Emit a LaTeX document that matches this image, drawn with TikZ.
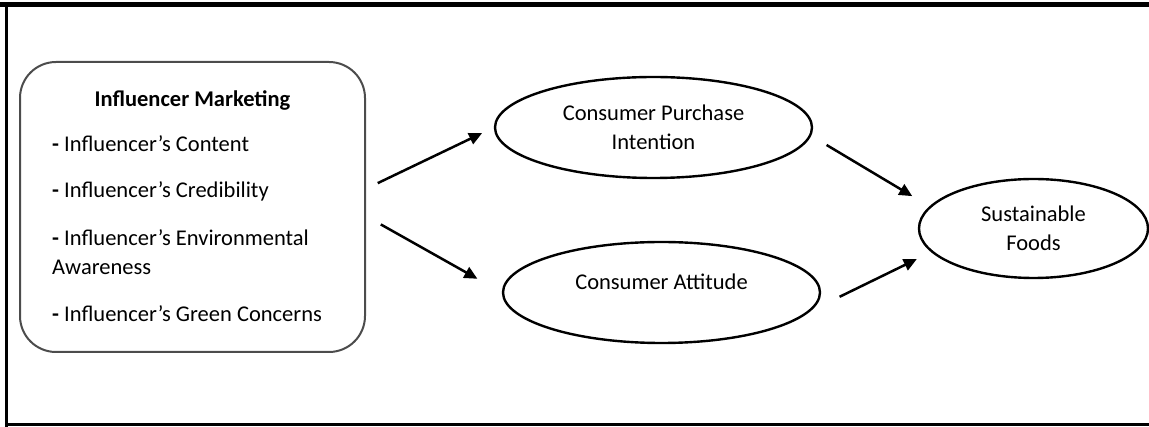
\documentclass[tikz,border=0pt]{standalone}
\usepackage{fontspec}
\setmainfont{Carlito}
\usetikzlibrary{arrows.meta,shapes.geometric}

\begin{document}
\begin{tikzpicture}[x=1pt,y=-1pt,
    every node/.style={font=\fontsize{22.5}{29.5}\selectfont, inner sep=0pt},
    factor/.style={draw, ellipse, line width=2.4pt, minimum width=317pt, minimum height=101pt, align=center},
    item/.style={anchor=base west, align=left},
    link/.style={line width=2.5pt, -{Triangle[length=13pt,width=12pt]}}]
             \useasboundingbox (0,0) rectangle (1149,427);

             % frame
             \fill (0,2) rectangle (1149,7);
             \fill (5,2) rectangle (8,427);
             \fill (5,423) rectangle (1149,426);

             % influencer side
             \node[draw=black!70, line width=2pt, rounded corners=36pt, minimum width=345pt, minimum height=290pt] (im) at (192.5,207) {};
             \node[font=\fontsize{22.5}{29.5}\selectfont\bfseries, anchor=base] (imtitle) at (192.5,107) {Influencer Marketing};
             \node[item] (content) at (52,152) {\textbf{-} Influencer's Content};
             \node[item] (cred) at (52,198) {\textbf{-} Influencer's Credibility};
             % two lines: base sits on the last one
             \node[item] (env) at (52,275) {\textbf{-} Influencer's Environmental\\Awareness};
             \node[item] (green) at (52,322) {\textbf{-} Influencer's Green Concerns};

             % consumer side
             \node[factor] (cpi) at (653.5,127.5) {Consumer Purchase\\Intention};
             \node[factor, text height=15pt, text depth=20pt] (ca) at (661.5,292.5) {Consumer Attitude};
             \node[factor, minimum width=229pt, minimum height=99pt] (sf) at (1033.5,228.5) {Sustainable\\Foods};

             \draw[link, shorten <=13pt, shorten >=13pt] (im.6) -- (cpi.west);
             \draw[link, shorten <=17pt, shorten >=28pt] (im.-3) -- (ca.west);
             \draw[link, shorten <=18pt, shorten >=20pt] (cpi.-3) -- (sf.168);
             \draw[link, shorten <=32pt, shorten >=16pt] (ca.-7) -- (sf.193);
             \end{tikzpicture}
\end{document}
